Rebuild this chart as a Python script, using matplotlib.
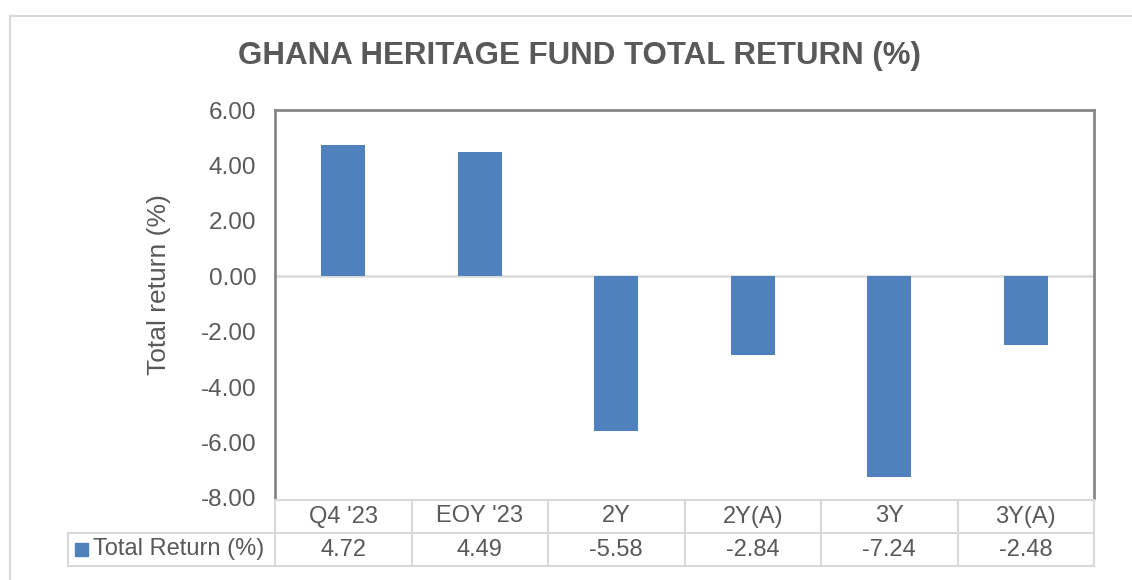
import matplotlib
matplotlib.use("Agg")
import matplotlib.pyplot as plt
import matplotlib.transforms as mtransforms
from matplotlib.lines import Line2D
from matplotlib.patches import Rectangle

categories = ["Q4 '23", "EOY '23", "2Y", "2Y(A)", "3Y", "3Y(A)"]
values = [4.72, 4.49, -5.58, -2.84, -7.24, -2.48]
value_labels = ["4.72", "4.49", "-5.58", "-2.84", "-7.24", "-2.48"]
series_name = "Total Return (%)"
yticks = [6, 4, 2, 0, -2, -4, -6, -8]
title = "GHANA HERITAGE FUND TOTAL RETURN (%)"
ylabel = "Total return (%)"

plt.rcParams['font.family'] = ['Liberation Sans', 'DejaVu Sans']
TXT = '#595959'
BAR = '#4f81bd'
GRID = '#d9d9d9'
SPINE = '#868686'

W, H = 1132, 580
fig = plt.figure(figsize=(W / 100, H / 100), dpi=100)

def fx(px):
    return px / W

def fy(py):
    return 1 - py / H

# outer chart frame
fig.add_artist(Line2D([fx(10), 1.0], [fy(16), fy(16)], color=GRID, lw=1.5, transform=fig.transFigure))
fig.add_artist(Line2D([fx(10), fx(10)], [fy(16), 0.0], color=GRID, lw=1.5, transform=fig.transFigure))

left, right, top, bottom = 275, 1094, 110, 498
ax = fig.add_axes([fx(left), fy(bottom), fx(right) - fx(left), fy(top) - fy(bottom)])
x = list(range(len(categories)))
ax.bar(x, values, width=0.32, color=BAR, zorder=3)
ax.set_xlim(-0.5, len(categories) - 0.5)
ax.set_ylim(-8, 6)
ax.set_yticks(yticks)
ax.set_yticklabels([f"{t:.2f}" for t in yticks], fontsize=17.5, color=TXT)
ax.tick_params(axis='y', length=0, pad=13.5)
ax.set_xticks([])
ax.axhline(0, color=GRID, lw=1.8, zorder=2)
for s in ['left', 'top', 'right']:
    ax.spines[s].set_color(SPINE)
    ax.spines[s].set_linewidth(2)
ax.spines['bottom'].set_visible(False)
ax.set_ylabel(ylabel, fontsize=19, color=TXT, va='center')
ax.yaxis.set_label_coords((159 - left) / (right - left), (bottom - 285) / (bottom - top))

fig.text(fx(579), fy(56), title, ha='center', va='center', fontsize=22.5,
         fontweight='bold', color=TXT)

# data table below, x in data coords, y in figure coords
trans = mtransforms.blended_transform_factory(ax.transData, fig.transFigure)
unit = (right - left) / len(categories)
leg_left = -0.5 - (left - 68) / unit
row_top, row_mid, row_bot = fy(500), fy(533), fy(566)
xmax = len(categories) - 0.5
lw_t = 1.5
# horizontal lines
fig.add_artist(Line2D([-0.5, xmax], [row_top, row_top], color=GRID, lw=lw_t, transform=trans))
fig.add_artist(Line2D([leg_left, xmax], [row_mid, row_mid], color=GRID, lw=lw_t, transform=trans))
fig.add_artist(Line2D([leg_left, xmax], [row_bot, row_bot], color=GRID, lw=lw_t, transform=trans))
# vertical lines
fig.add_artist(Line2D([leg_left, leg_left], [row_mid, row_bot], color=GRID, lw=lw_t, transform=trans))
for i in range(len(categories) + 1):
    xb = i - 0.5
    fig.add_artist(Line2D([xb, xb], [row_top, row_bot], color=GRID, lw=lw_t, transform=trans))

for i, (c, v) in enumerate(zip(categories, value_labels)):
    fig.text(i, (row_top + row_mid) / 2, c, ha='center', va='center', fontsize=17,
             color=TXT, transform=trans)
    fig.text(i, (row_mid + row_bot) / 2, v, ha='center', va='center', fontsize=17,
             color=TXT, transform=trans)

# legend key in table
ymid = (row_mid + row_bot) / 2
fig.add_artist(Rectangle((fx(75), ymid - 6 / H), 13 / W, 13 / H, color=BAR,
                         transform=fig.transFigure))
fig.text(fx(93), ymid, series_name, ha='left', va='center', fontsize=17, color=TXT)

fig.savefig("out.png", dpi=100)
